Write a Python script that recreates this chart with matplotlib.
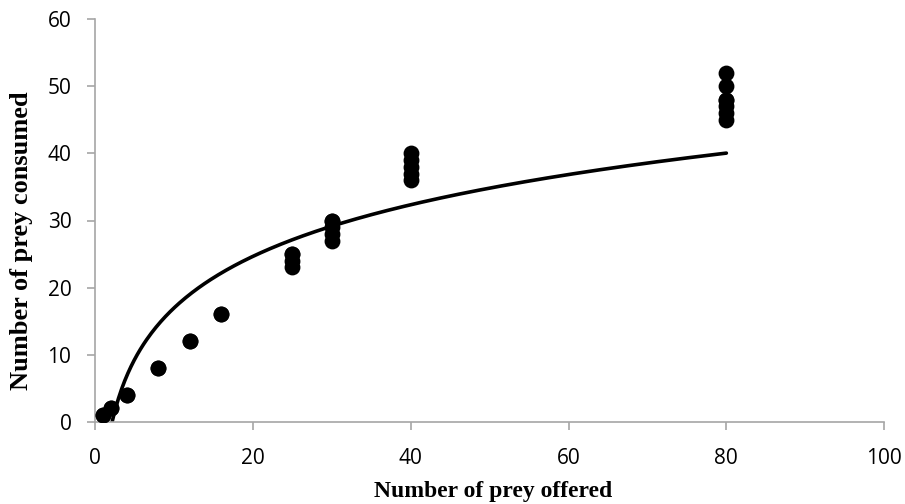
import matplotlib.pyplot as plt
import numpy as np

# prey offered vs prey consumed (replicates)
x_off = [1, 1, 2, 2, 4, 4, 8, 8, 12, 12, 16, 16,
         25, 25, 25, 25, 30, 30, 30, 30, 30,
         40, 40, 40, 40, 40, 80, 80, 80, 80, 80, 80, 80]
y_con = [1, 1, 2, 2, 4, 4, 8, 8, 12, 12, 16, 16,
         23, 24, 25, 25, 27, 28, 29, 30, 30,
         36, 37, 38, 39, 40, 45, 46, 47, 48, 48, 50, 52]

xticks = [0, 20, 40, 60, 80, 100]
yticks = [0, 10, 20, 30, 40, 50, 60]

# logarithmic trend line y = a*ln(x) + b, coefficients
trend_a = 11.1
trend_b = -8.6

xs = np.linspace(min(x_off), max(x_off), 400)
ys = trend_a * np.log(xs) + trend_b

fig = plt.figure(figsize=(9.05, 5.04), dpi=100)
ax = fig.add_axes([0.105, 0.163, 0.872, 0.799])

ax.scatter(x_off, y_con, s=130, color='black', linewidths=0, zorder=3)
ax.plot(xs, ys, color='black', lw=2.6, solid_capstyle='round', zorder=2)

ax.set_xlim(0, 100)
ax.set_ylim(0, 60)
ax.set_xticks(xticks)
ax.set_yticks(yticks)
for s in ['top', 'right']:
    ax.spines[s].set_visible(False)
for s in ['left', 'bottom']:
    ax.spines[s].set_color('#a6a6a6')
    ax.spines[s].set_linewidth(1.2)
ax.tick_params(colors='#a6a6a6', length=6, width=1.2, labelcolor='black',
               labelsize=15)
ax.tick_params(axis='x', pad=13)
ax.tick_params(axis='y', pad=11)
for lab in ax.get_xticklabels() + ax.get_yticklabels():
    lab.set_family('Open Sans')

ax.set_xlabel('Number of prey offered', family='Liberation Serif',
              fontweight='bold', fontsize=17)
ax.set_ylabel('Number of prey consumed', family='Liberation Serif',
              fontweight='bold', fontsize=19)
ax.xaxis.set_label_coords(0.504, -0.147)
ax.yaxis.set_label_coords(-0.079, 0.449)

fig.savefig('out.png', dpi=100)
